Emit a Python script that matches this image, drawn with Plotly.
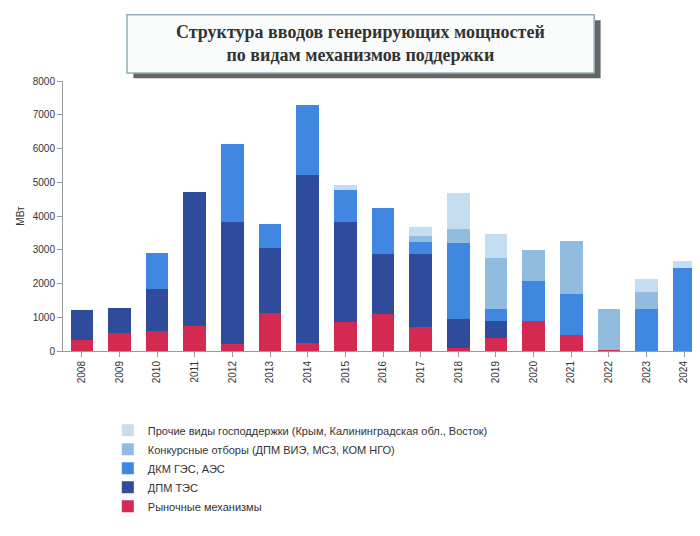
import plotly.graph_objects as go

years = [str(y) for y in range(2008, 2025)]
market = [320, 530, 600, 750, 200, 1120, 250, 850, 1100, 700, 100, 380, 880, 480, 30, 0, 0]
dpm_tes = [890, 740, 1240, 3950, 3620, 1930, 4970, 2970, 1780, 2180, 850, 520, 0, 0, 0, 0, 0]
dkm = [0, 0, 1060, 0, 2300, 700, 2060, 960, 1370, 340, 2250, 350, 1200, 1220, 0, 1230, 2450]
konkurs = [0, 0, 0, 0, 0, 0, 0, 0, 0, 200, 420, 1500, 920, 1570, 1220, 530, 0]
other = [0, 0, 0, 0, 0, 0, 0, 140, 0, 240, 1060, 720, 0, 0, 0, 370, 230]

series = [
    ("Рыночные механизмы", market, "#d42a52"),
    ("ДПМ ТЭС", dpm_tes, "#2f4b9c"),
    ("ДКМ ГЭС, АЭС", dkm, "#3f87e0"),
    ("Конкурсные отборы (ДПМ ВИЭ, МСЗ, КОМ НГО)", konkurs, "#92bbe0"),
    ("Прочие виды господдержки (Крым, Калининградская обл., Восток)", other, "#c5ddf0"),
]

fig = go.Figure()
for i, (name, vals, color) in enumerate(series):
    fig.add_bar(x=years, y=vals, name=name, marker_color=color, marker_line_width=0,
                width=0.6, legendgroup=str(i))

fig.update_layout(
    barmode="stack",
    width=700, height=536,
    paper_bgcolor="white", plot_bgcolor="white",
    font=dict(family="Arial, Liberation Sans", size=11, color="#333"),
    margin=dict(l=55, r=5, t=73, b=193),
    legend=dict(orientation="v", x=0.07, xanchor="left", y=-0.24, yanchor="top",
                traceorder="reversed", tracegroupgap=5, font=dict(size=11), itemsizing="constant"),
    xaxis=dict(tickangle=-90, showline=True, linecolor="#999", ticks="outside",
               tickcolor="#999", tickfont=dict(size=10)),
    yaxis=dict(range=[0, 8000], dtick=1000, showgrid=False, showline=True, linecolor="#999",
               ticks="outside", tickcolor="#999", tickfont=dict(size=10),
               title=dict(text="МВт", font=dict(size=10), standoff=6)),
    shapes=[
        dict(type="rect", xref="paper", yref="paper", x0=0.11, x1=0.84, y0=1.01, y1=1.225,
             fillcolor="#666", line_width=0, layer="below"),
        dict(type="rect", xref="paper", yref="paper", x0=0.1, x1=0.83, y0=1.03, y1=1.245,
             fillcolor="#fafcfc", line=dict(color="#8fb0b8", width=1.5)),
    ],
    annotations=[dict(text="<b>Структура вводов генерирующих мощностей<br>по видам механизмов поддержки</b>",
                      xref="paper", yref="paper", x=0.465, y=1.138, yanchor="middle",
                      xanchor="center", showarrow=False,
                      font=dict(family="Liberation Serif, DejaVu Serif", size=18, color="#333"))],
)

fig.write_html("out.html")
